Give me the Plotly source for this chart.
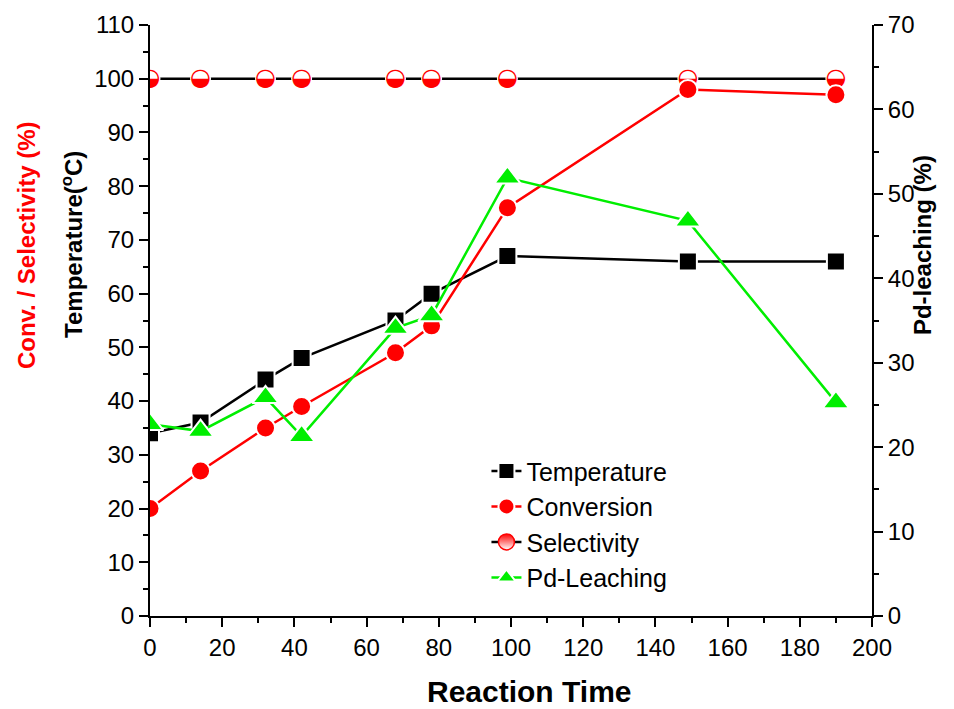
import plotly.graph_objects as go

time = [0, 14, 32, 42, 68, 78, 99, 149, 190]
temperature = [34, 36, 44, 48, 55, 60, 67, 66, 66]
conversion = [20, 27, 35, 39, 49, 54, 76, 98, 97]
selectivity = [100, 100, 100, 100, 100, 100, 100, 100, 100]
pd_leaching = [22.7, 21.9, 25.9, 21.3, 34.1, 35.6, 51.9, 46.8, 25.3]

FONT = "Liberation Sans, Arial, sans-serif"
halo = dict(color="white", width=2)

fig = go.Figure()

fig.add_trace(go.Scatter(
    x=time, y=temperature, name="Temperature", mode="lines+markers",
    line=dict(color="black", width=2.5),
    marker=dict(symbol="square", size=18, color="black", line=halo),
    legendrank=1))

fig.add_trace(go.Scatter(
    x=time, y=selectivity, name="Selectivity", mode="lines+markers",
    line=dict(color="black", width=2.5),
    marker=dict(symbol="circle", size=16, color="red",
                gradient=dict(type="vertical", color="white"),
                line=dict(color="red", width=1.5)),
    legendrank=3))

fig.add_trace(go.Scatter(
    x=time, y=selectivity, mode="markers", showlegend=False, hoverinfo="skip",
    marker=dict(symbol="circle", size=21, color="white", line=dict(width=0))))

fig.add_trace(go.Scatter(
    x=time, y=selectivity, mode="text", text=["◒"] * len(time),
    textposition="middle center", showlegend=False, hoverinfo="skip",
    textfont=dict(family="DejaVu Sans", size=24, color="red")))

fig.add_trace(go.Scatter(
    x=time, y=conversion, name="Conversion", mode="lines+markers",
    line=dict(color="red", width=2.5),
    marker=dict(symbol="circle", size=19, color="red", line=halo),
    legendrank=2))

fig.add_trace(go.Scatter(
    x=time, y=pd_leaching, name="Pd-Leaching", mode="lines+markers",
    yaxis="y2",
    line=dict(color="#00ee00", width=2.5),
    marker=dict(symbol="triangle-up", size=23, color="#00ee00", line=halo),
    legendrank=4))

axis_common = dict(
    showline=True, linecolor="black", linewidth=2,
    ticks="outside", ticklen=9, tickwidth=2, tickcolor="black",
    showgrid=False, zeroline=False,
    tickfont=dict(family=FONT, size=24, color="black"),
)
minor = dict(ticks="outside", ticklen=5, tickwidth=2, tickcolor="black")

fig.update_layout(
    width=946, height=701,
    margin=dict(l=142, r=82, t=17, b=93, autoexpand=False),
    plot_bgcolor="white", paper_bgcolor="white",
    font=dict(family=FONT, color="black"),
    xaxis=dict(range=[0, 200], dtick=20, tick0=0, minor=dict(dtick=10, **minor),
               **axis_common),
    yaxis=dict(range=[0, 110], dtick=10, tick0=0, minor=dict(dtick=5, **minor),
               **axis_common),
    yaxis2=dict(range=[0, 70], dtick=10, tick0=0, overlaying="y", side="right",
                minor=dict(dtick=5, **minor), **axis_common),
    legend=dict(x=0.466, y=0.284, xanchor="left", yanchor="top",
                bgcolor="rgba(0,0,0,0)", borderwidth=0,
                font=dict(family=FONT, size=25, color="black"),
                tracegroupgap=0),
    showlegend=True,
)

fig.add_annotation(text="<b>Reaction Time</b>", xref="paper", yref="paper",
                   x=0.526, y=-0.128, yanchor="middle", showarrow=False,
                   font=dict(family=FONT, size=30, color="black"))
fig.add_annotation(text="<b>Conv. / Selectivity (%)</b>", xref="paper", yref="paper",
                   x=-0.170, xanchor="center", y=0.628, yanchor="middle",
                   textangle=-90, showarrow=False,
                   font=dict(family=FONT, size=24, color="red"))
fig.add_annotation(text="<b>Temperature(<sup>o</sup>C)</b>", xref="paper", yref="paper",
                   x=-0.108, xanchor="center", y=0.628, yanchor="middle",
                   textangle=-90, showarrow=False,
                   font=dict(family=FONT, size=24, color="black"))
fig.add_annotation(text="<b>Pd-leaching (%)</b>", xref="paper", yref="paper",
                   x=1.071, xanchor="center", y=0.628, yanchor="middle",
                   textangle=-90, showarrow=False,
                   font=dict(family=FONT, size=24, color="black"))

fig.write_html("out.html")
